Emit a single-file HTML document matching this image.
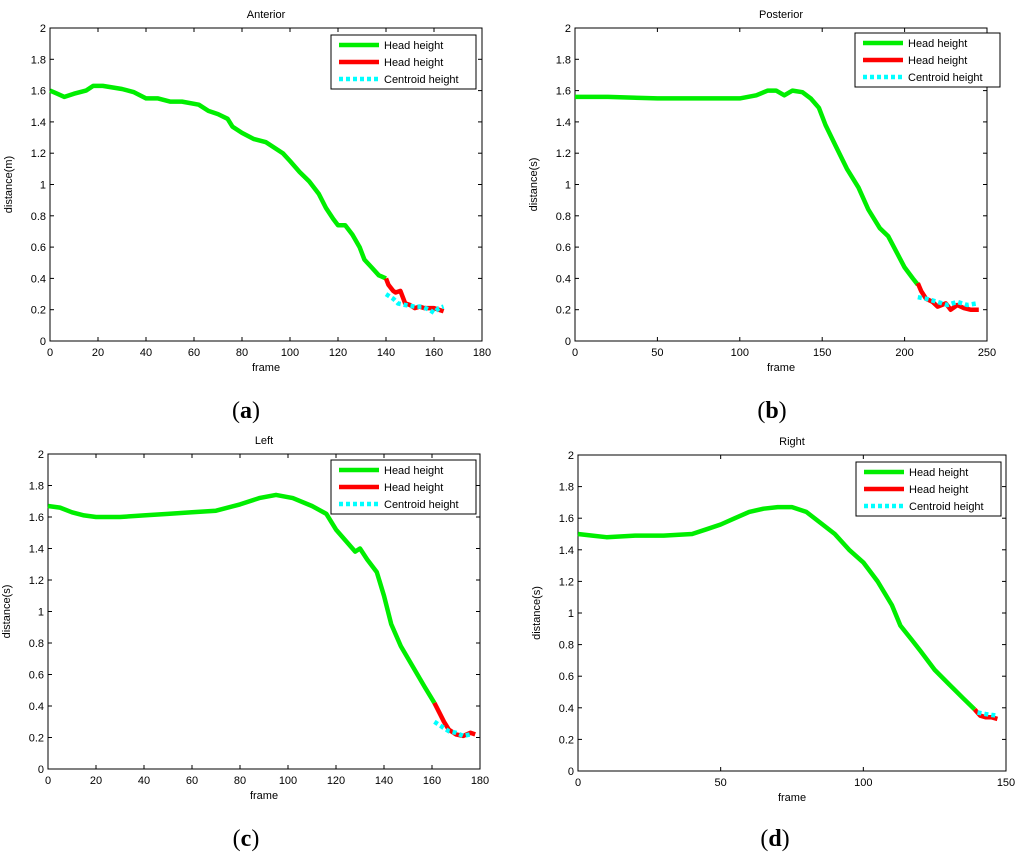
<!DOCTYPE html>
<html><head><meta charset="utf-8">
<style>
body{margin:0;background:#fff;}
svg{display:block;font-family:"Liberation Sans",sans-serif;}
</style></head>
<body>
<svg id="fig" width="1024" height="857" viewBox="0 0 1024 857" xmlns="http://www.w3.org/2000/svg"></svg>
<script>
// ---- data ----
const aGreen=[[0,1.6],[3,1.58],[6,1.56],[10,1.58],[15,1.6],[18,1.63],[22,1.63],[30,1.61],[35,1.59],[40,1.55],[45,1.55],[50,1.53],[55,1.53],[62,1.51],[66,1.47],[70,1.45],[74,1.42],[76,1.37],[80,1.33],[85,1.29],[90,1.27],[92,1.25],[97,1.2],[100,1.15],[104,1.08],[108,1.02],[112,0.94],[115,0.85],[118,0.78],[120,0.74],[123,0.74],[126,0.68],[129,0.6],[131,0.52],[134,0.47],[137,0.42],[140,0.4]];
const aRed=[[140,0.4],[141,0.36],[143,0.32],[144,0.31],[146,0.32],[147,0.28],[148,0.24],[150,0.23],[152,0.21],[154,0.22],[156,0.21],[158,0.21],[160,0.21],[162,0.2],[164,0.19]];
const aCyan=[[140,0.3],[143,0.27],[145,0.24],[148,0.23],[152,0.22],[155,0.22],[158,0.2],[160,0.18],[162,0.21],[164,0.22]];
const bGreen=[[0,1.56],[20,1.56],[50,1.55],[80,1.55],[100,1.55],[110,1.57],[117,1.6],[122,1.6],[127,1.57],[132,1.6],[138,1.59],[143,1.55],[148,1.49],[152,1.38],[158,1.25],[165,1.1],[172,0.98],[178,0.84],[185,0.72],[190,0.67],[195,0.57],[200,0.47],[205,0.4],[208,0.36]];
const bRed=[[208,0.37],[210,0.32],[213,0.27],[217,0.25],[220,0.22],[225,0.24],[228,0.2],[232,0.23],[236,0.21],[240,0.2],[245,0.2]];
const bCyan=[[208,0.28],[213,0.27],[220,0.25],[226,0.23],[232,0.25],[238,0.23],[244,0.24]];
const cGreen=[[0,1.67],[5,1.66],[10,1.63],[15,1.61],[20,1.6],[30,1.6],[40,1.61],[50,1.62],[60,1.63],[70,1.64],[80,1.68],[88,1.72],[95,1.74],[102,1.72],[110,1.67],[116,1.62],[120,1.52],[124,1.45],[128,1.38],[130,1.4],[133,1.33],[137,1.25],[140,1.1],[143,0.92],[147,0.78],[152,0.65],[157,0.52],[161,0.42]];
const cRed=[[161,0.42],[163,0.36],[165,0.3],[167,0.25],[170,0.22],[173,0.21],[176,0.23],[178,0.22]];
const cCyan=[[161,0.3],[164,0.27],[167,0.24],[170,0.23],[173,0.21],[176,0.22]];
const dGreen=[[0,1.5],[5,1.49],[10,1.48],[20,1.49],[30,1.49],[40,1.5],[45,1.53],[50,1.56],[55,1.6],[60,1.64],[65,1.66],[70,1.67],[75,1.67],[80,1.64],[85,1.57],[90,1.5],[95,1.4],[100,1.32],[105,1.2],[110,1.05],[113,0.92],[117,0.83],[120,0.76],[125,0.64],[130,0.55],[135,0.46],[139,0.39]];
const dRed=[[139,0.39],[141,0.35],[143,0.34],[145,0.34],[147,0.33]];
const dCyan=[[140,0.37],[143,0.36],[147,0.35]];
const yTicks=[0,0.2,0.4,0.6,0.8,1,1.2,1.4,1.6,1.8,2];
const xTicksA=[0,20,40,60,80,100,120,140,160,180];
const xTicksB=[0,50,100,150,200,250];
const xTicksD=[0,50,100,150];
const legendLabels=["Head height","Head height","Centroid height"];

const NS="http://www.w3.org/2000/svg";
const svg=document.getElementById('fig');
function el(tag,attrs,parent,text){const e=document.createElementNS(NS,tag);for(const k in attrs)e.setAttribute(k,attrs[k]);if(text!==undefined)e.textContent=text;(parent||svg).appendChild(e);return e;}

function panel(p){
  const g=el('g',{},svg);
  
  
  const xs=v=>p.L+(v-p.xmin)/(p.xmax-p.xmin)*(p.R-p.L);
  const ys=v=>p.B-(v/2)*(p.B-p.T);
  const t=el('text',{x:(p.L+p.R)/2,y:p.T-10,'text-anchor':'middle','font-size':11},g,p.title);
  
  yTicks.forEach(v=>{
    const y=ys(v);
    el('line',{x1:p.L,x2:p.L+4,y1:y,y2:y,stroke:'#000','stroke-width':1},g);
    el('line',{x1:p.R,x2:p.R-4,y1:y,y2:y,stroke:'#000','stroke-width':1},g);
    const tl=el('text',{x:p.L-4,y:y+4,'text-anchor':'end','font-size':11},g,String(v));
    
  });
  p.xt.forEach(v=>{
    const x=xs(v);
    el('line',{x1:x,x2:x,y1:p.B,y2:p.B-4,stroke:'#000','stroke-width':1},g);
    el('line',{x1:x,x2:x,y1:p.T,y2:p.T+4,stroke:'#000','stroke-width':1},g);
    const tl=el('text',{x:x,y:p.B+15,'text-anchor':'middle','font-size':11},g,String(v));
    
  });
  const fr=el('rect',{x:p.L,y:p.T,width:p.R-p.L,height:p.B-p.T,fill:'none',stroke:'#000','stroke-width':1},g);
  
  const xl=el('text',{x:(p.L+p.R)/2,y:p.B+30,'text-anchor':'middle','font-size':11},g,'frame');
  
  const yx=p.L-38, yy=(p.T+p.B)/2;
  const yl=el('text',{x:yx,y:yy,'text-anchor':'middle','font-size':11,transform:`rotate(-90 ${yx} ${yy})`},g,p.ylab);
  
  const pts=a=>a.map(d=>xs(d[0]).toFixed(1)+','+ys(d[1]).toFixed(1)).join(' ');
  const s1=el('polyline',{points:pts(p.g),fill:'none',stroke:'#00ee00','stroke-width':4.5,'stroke-linejoin':'round'},g);
  
  const s2=el('polyline',{points:pts(p.r),fill:'none',stroke:'#ff0000','stroke-width':4.5,'stroke-linejoin':'round'},g);
  
  const s3=el('polyline',{points:pts(p.c),fill:'none',stroke:'#00ffff','stroke-width':4.5,'stroke-dasharray':'4,3'},g);
  
  // legend
  const lg=el('g',{},g);
  
  el('rect',{x:p.lx,y:p.ly,width:145,height:54,fill:'#fff',stroke:'#000','stroke-width':1},lg);
  const cols=['#00ee00','#ff0000','#00ffff'];
  legendLabels.forEach((lab,i)=>{
    const y=p.ly+10+i*17;
    const ln=el('line',{x1:p.lx+8,x2:p.lx+48,y1:y,y2:y,stroke:cols[i],'stroke-width':4.5,'stroke-dasharray':i==2?'4,3':'none'},lg);
    
    const tx=el('text',{x:p.lx+53,y:y+4,'font-size':11},lg,lab);
    
  });
  const pl=el('text',{x:p.labx,y:p.laby,'text-anchor':'middle','font-size':24,'font-family':'Liberation Serif, serif'},g);
  
  el('tspan',{},pl,'(');el('tspan',{'font-weight':'bold'},pl,p.id);el('tspan',{},pl,')');
}
panel({id:'a',title:'Anterior',ylab:'distance(m)',L:50,R:482,T:28,B:341,xmin:0,xmax:180,xt:xTicksA,g:aGreen,r:aRed,c:aCyan,lx:331,ly:35,labx:246,laby:418});
panel({id:'b',title:'Posterior',ylab:'distance(s)',L:575,R:987,T:28,B:341,xmin:0,xmax:250,xt:xTicksB,g:bGreen,r:bRed,c:bCyan,lx:855,ly:33,labx:772,laby:418});
panel({id:'c',title:'Left',ylab:'distance(s)',L:48,R:480,T:454,B:769,xmin:0,xmax:180,xt:xTicksA,g:cGreen,r:cRed,c:cCyan,lx:331,ly:460,labx:246,laby:846});
panel({id:'d',title:'Right',ylab:'distance(s)',L:578,R:1006,T:455,B:771,xmin:0,xmax:150,xt:xTicksD,g:dGreen,r:dRed,c:dCyan,lx:856,ly:462,labx:775,laby:846});
</script>
</body></html>
